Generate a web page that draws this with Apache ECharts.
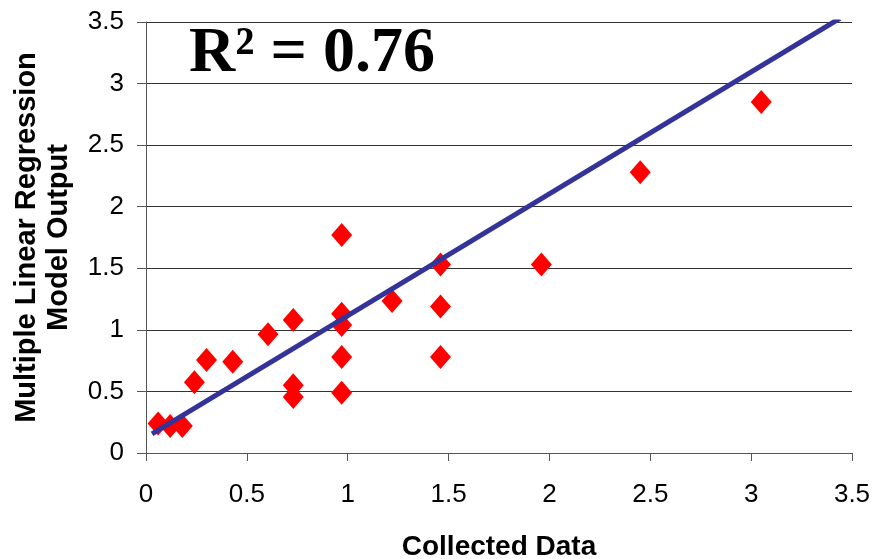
<!DOCTYPE html>
<html>
<head>
<meta charset="utf-8">
<script src="https://cdn.jsdelivr.net/npm/echarts@6/dist/echarts.min.js"></script>
<style>html,body{margin:0;padding:0;background:#fff}#c{width:873px;height:559px}</style>
</head>
<body>
<div id="c"></div>
<script>
var collected = [0.06, 0.12, 0.18, 0.24, 0.30, 0.43, 0.605, 0.73, 0.73, 0.73, 0.97, 0.97, 0.97, 0.97, 0.97, 1.22, 1.46, 1.46, 1.46, 1.96, 2.45, 3.05];
var modelOutput = [0.24, 0.22, 0.22, 0.575, 0.755, 0.74, 0.965, 1.08, 0.55, 0.455, 1.77, 1.13, 1.04, 0.78, 0.49, 1.235, 1.53, 1.19, 0.78, 1.53, 2.28, 2.85];
var fitX = [0.03, 3.44];
var fitY = [0.155, 3.53];
var ticks = [0, 0.5, 1, 1.5, 2, 2.5, 3, 3.5];
var r2Text = 'R² = 0.76';

var pts = collected.map(function (x, i) { return [x, modelOutput[i]]; });
var fit = fitX.map(function (x, i) { return [x, fitY[i]]; });

var chart = echarts.init(document.getElementById('c'));
chart.setOption({
  backgroundColor: '#fff',
  animation: false,
  title: {
    text: r2Text,
    left: 184, top: 17,
    textStyle: { fontFamily: 'Liberation Serif', fontWeight: 'bold', fontSize: 64, color: '#000' }
  },
  grid: { left: 146, right: 21, top: 22, bottom: 106, containLabel: false, outerBoundsMode: 'none' },
  xAxis: {
    type: 'value', min: 0, max: 3.5, interval: 0.5,
    name: 'Collected Data', nameLocation: 'middle', nameGap: 80,
    nameTextStyle: { fontFamily: 'Liberation Sans', fontWeight: 'bold', fontSize: 28, color: '#000' },
    axisLine: { show: true, lineStyle: { color: '#555', width: 1 } },
    axisTick: { show: true, length: 8, lineStyle: { color: '#555' } },
    axisLabel: { margin: 29, fontFamily: 'Liberation Sans', fontSize: 26, color: '#000',
      formatter: function (v) { return String(v); } },
    splitLine: { show: false }
  },
  yAxis: {
    type: 'value', min: 0, max: 3.5, interval: 0.5,
    name: 'Multiple Linear Regression\nModel Output', nameLocation: 'middle', nameGap: 71, nameRotate: 90,
    nameTextStyle: { fontFamily: 'Liberation Sans', fontWeight: 'bold', fontSize: 29, color: '#000', lineHeight: 32 },
    axisLine: { show: true, lineStyle: { color: '#555', width: 1 } },
    axisTick: { show: true, length: 9, lineStyle: { color: '#555' } },
    axisLabel: { margin: 22, fontFamily: 'Liberation Sans', fontSize: 26, color: '#000',
      formatter: function (v) { return String(v); } },
    splitLine: { show: true, lineStyle: { color: '#333', width: 1 } }
  },
  series: [
    {
      type: 'line', data: fit, showSymbol: false, symbol: 'none',
      lineStyle: { color: '#333399', width: 5 }, z: 3
    },
    {
      type: 'scatter', data: pts, symbol: 'diamond', symbolSize: [21, 24],
      itemStyle: { color: '#ff0000', opacity: 1 }, z: 2
    }
  ]
});
</script>
</body>
</html>
